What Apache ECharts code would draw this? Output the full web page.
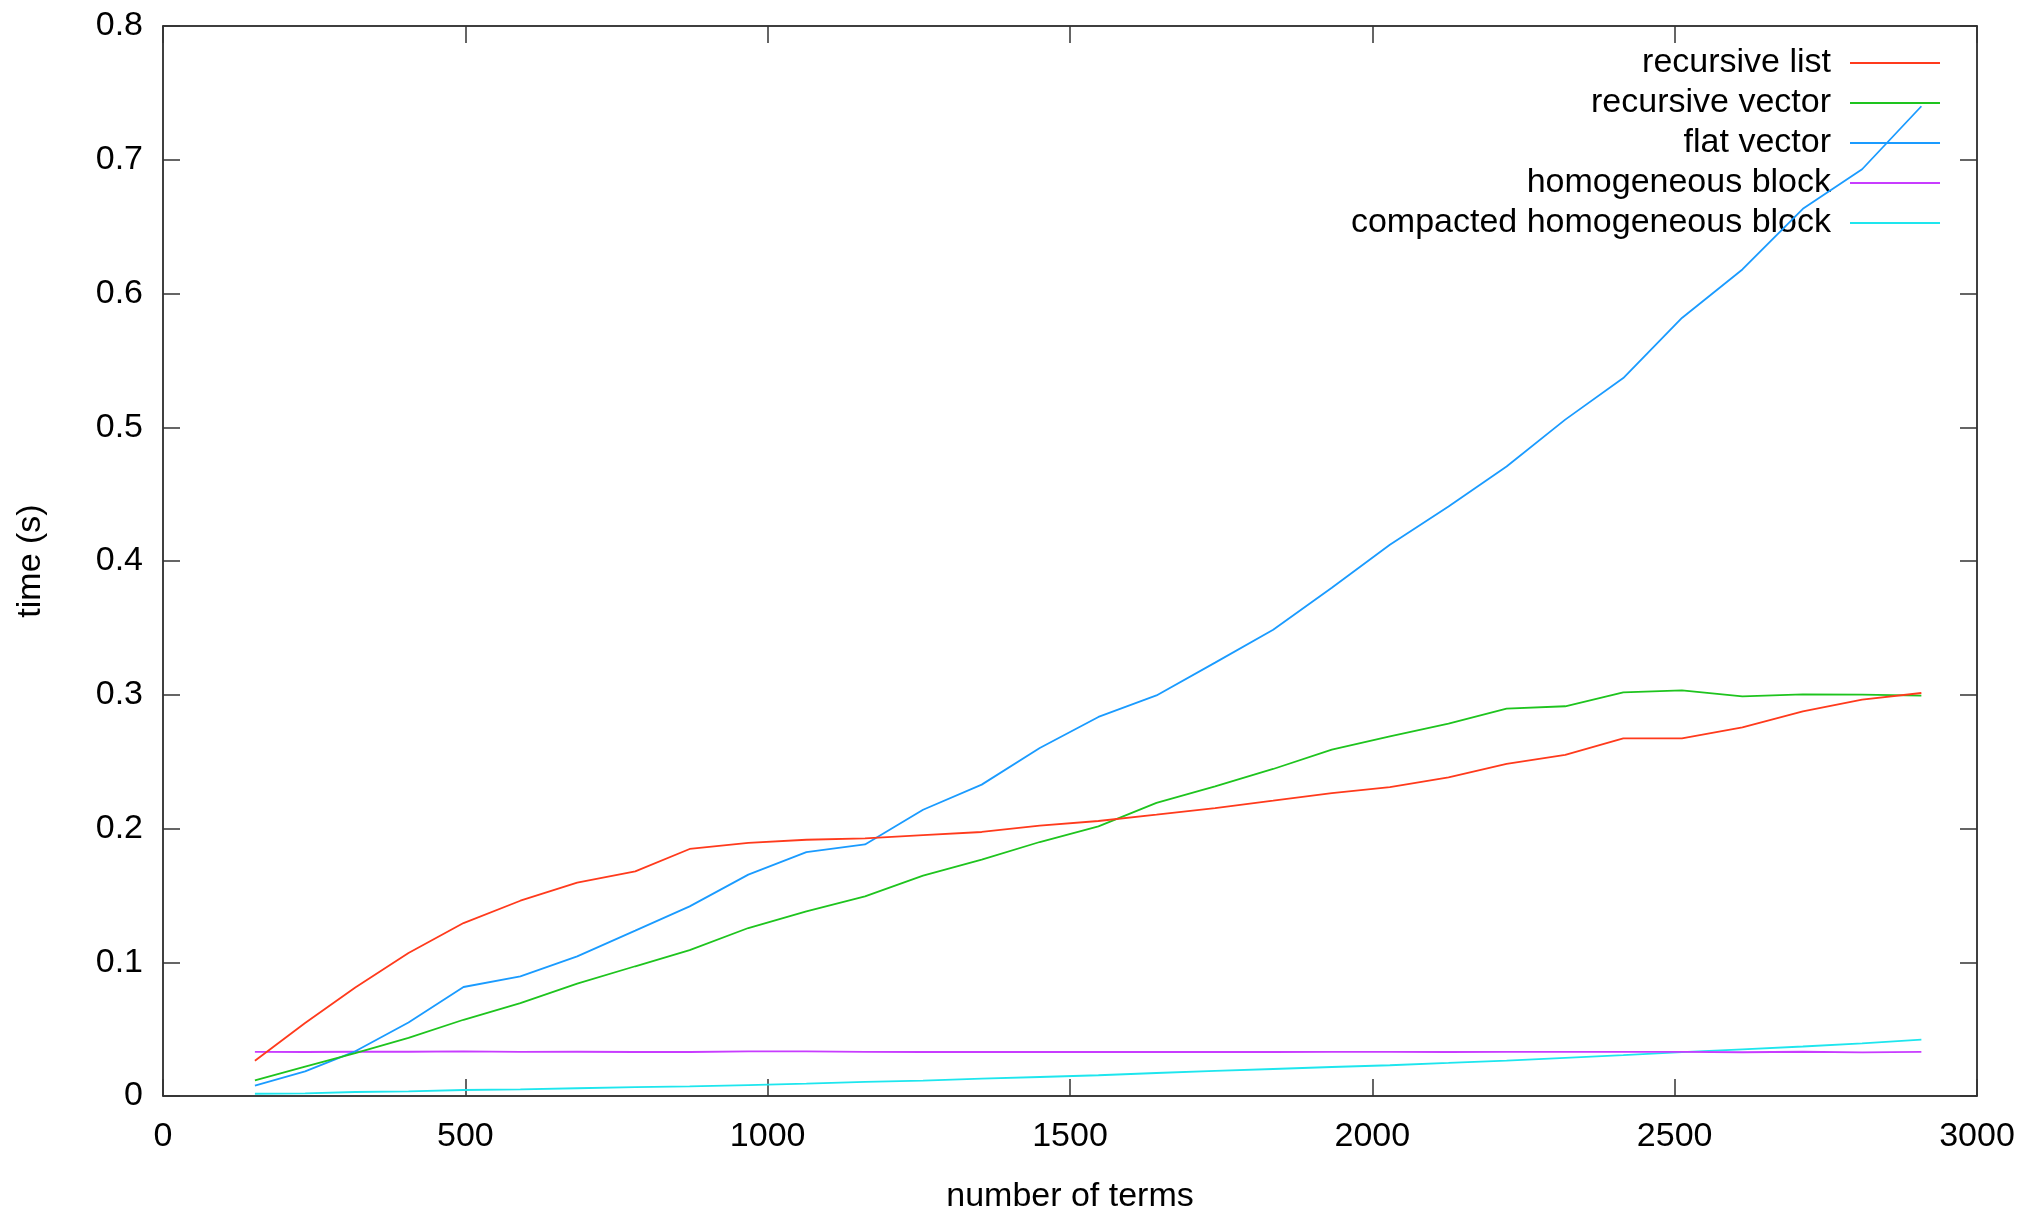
<!DOCTYPE html>
<html>
<head>
<meta charset="utf-8">
<script src="https://cdn.jsdelivr.net/npm/echarts@6/dist/echarts.min.js"></script>
<style>html,body{margin:0;padding:0;background:#fff}#c{width:2036px;height:1209px}</style>
</head>
<body>
<div id="c"></div>
<script>
// number of terms (x values)
var terms = [152, 235, 318, 406, 497, 591, 685, 781, 871, 968, 1064, 1161, 1257, 1354, 1450, 1547, 1643, 1740, 1836, 1933, 2029, 2126, 2222, 2319, 2415, 2512, 2612, 2712, 2810, 2908];
var recursiveList = [0.0264, 0.0546, 0.0812, 0.1069, 0.1293, 0.1460, 0.1595, 0.1680, 0.1847, 0.1892, 0.1916, 0.1926, 0.1951, 0.1974, 0.2021, 0.2056, 0.2103, 0.2153, 0.2208, 0.2265, 0.2310, 0.2382, 0.2484, 0.2550, 0.2674, 0.2674, 0.2756, 0.2876, 0.2963, 0.3013];
var recursiveVector = [0.0117, 0.0220, 0.0320, 0.0434, 0.0570, 0.0695, 0.0840, 0.0970, 0.1090, 0.1256, 0.1380, 0.1492, 0.1647, 0.1767, 0.1899, 0.2016, 0.2191, 0.2315, 0.2445, 0.2589, 0.2689, 0.2784, 0.2896, 0.2914, 0.3018, 0.3033, 0.2988, 0.3003, 0.3001, 0.2993];
var flatVector = [0.0077, 0.0184, 0.0334, 0.0550, 0.0815, 0.0894, 0.1044, 0.1236, 0.1418, 0.1655, 0.1824, 0.1881, 0.2140, 0.2328, 0.2602, 0.2834, 0.2995, 0.3240, 0.3486, 0.3800, 0.4122, 0.4408, 0.4707, 0.5057, 0.5368, 0.5817, 0.6180, 0.6633, 0.6929, 0.7400];
var homogeneousBlock = [0.0330, 0.0329, 0.0331, 0.0331, 0.0333, 0.0330, 0.0331, 0.0329, 0.0329, 0.0333, 0.0334, 0.0330, 0.0329, 0.0329, 0.0329, 0.0329, 0.0329, 0.0330, 0.0329, 0.0330, 0.0330, 0.0329, 0.0330, 0.0330, 0.0330, 0.0330, 0.0327, 0.0331, 0.0326, 0.0330];
var compactedBlock = [0.0017, 0.0020, 0.0030, 0.0035, 0.0045, 0.0050, 0.0058, 0.0066, 0.0072, 0.0082, 0.0092, 0.0105, 0.0115, 0.0130, 0.0142, 0.0155, 0.0172, 0.0188, 0.0202, 0.0217, 0.0230, 0.0247, 0.0265, 0.0285, 0.0305, 0.0328, 0.0349, 0.0370, 0.0393, 0.0421];
var seriesNames = ['recursive list', 'recursive vector', 'flat vector', 'homogeneous block', 'compacted homogeneous block'];
var seriesColors = ['#ff3a1c', '#1ec41e', '#1a9bff', '#c83cff', '#1ee6ee'];
var xTicks = [0, 500, 1000, 1500, 2000, 2500, 3000];
var yTicks = [0, 0.1, 0.2, 0.3, 0.4, 0.5, 0.6, 0.7, 0.8];

var FONT = 'Liberation Sans';
var FS = 34;
var seriesValues = [recursiveList, recursiveVector, flatVector, homogeneousBlock, compactedBlock];
function pairs(vals) { return terms.map(function (t, i) { return [t, vals[i]]; }); }

function axisBase() {
  return {
    axisLine: { show: true, onZero: false, lineStyle: { color: '#000', width: 1.5 } },
    axisTick: { show: true, inside: true, length: 17, lineStyle: { color: '#333', width: 1.5 } },
    splitLine: { show: false }
  };
}

var option = {
  backgroundColor: '#fff',
  animation: false,
  textStyle: { fontFamily: FONT },
  grid: { left: 163, right: 59, top: 26, bottom: 113, containLabel: false, outerBoundsMode: 'none' },
  legend: {
    orient: 'vertical',
    right: 91,
    top: 41,
    align: 'right',
    itemWidth: 90,
    itemHeight: 2,
    itemGap: 6,
    icon: 'rect',
    textStyle: { fontFamily: FONT, fontSize: FS, color: '#000', padding: [0, 14, 0, 0], lineHeight: 34 },
    data: seriesNames
  },
  xAxis: [
    Object.assign(axisBase(), {
      type: 'value', min: xTicks[0], max: xTicks[xTicks.length - 1], interval: 500, position: 'bottom',
      name: 'number of terms', nameLocation: 'middle', nameGap: 84,
      nameTextStyle: { fontFamily: FONT, fontSize: FS, color: '#000' },
      axisLabel: { fontFamily: FONT, fontSize: FS, color: '#000', margin: 24,
        formatter: function (v) { return String(v); } }
    }),
    Object.assign(axisBase(), {
      type: 'value', min: xTicks[0], max: xTicks[xTicks.length - 1], interval: 500, position: 'top',
      axisLabel: { show: false }
    })
  ],
  yAxis: [
    Object.assign(axisBase(), {
      type: 'value', min: yTicks[0], max: yTicks[yTicks.length - 1], interval: 0.1, position: 'left',
      name: 'time (s)', nameLocation: 'middle', nameGap: 115, nameRotate: 90,
      nameTextStyle: { fontFamily: FONT, fontSize: FS, color: '#000' },
      axisLabel: { fontFamily: FONT, fontSize: FS, color: '#000', margin: 20,
        formatter: function (v) { return v === 0 ? '0' : (Math.round(v * 10) / 10).toString(); } }
    }),
    Object.assign(axisBase(), {
      type: 'value', min: yTicks[0], max: yTicks[yTicks.length - 1], interval: 0.1, position: 'right',
      axisLabel: { show: false }
    })
  ],
  series: seriesNames.map(function (n, i) {
    return {
      name: n, type: 'line', data: pairs(seriesValues[i]),
      showSymbol: false, symbol: 'none',
      itemStyle: { color: seriesColors[i] },
      lineStyle: { color: seriesColors[i], width: 1.8 },
      z: 10 - i
    };
  })
};

var chart = echarts.init(document.getElementById('c'), null, { renderer: 'canvas' });
chart.setOption(option);
</script>
</body>
</html>
